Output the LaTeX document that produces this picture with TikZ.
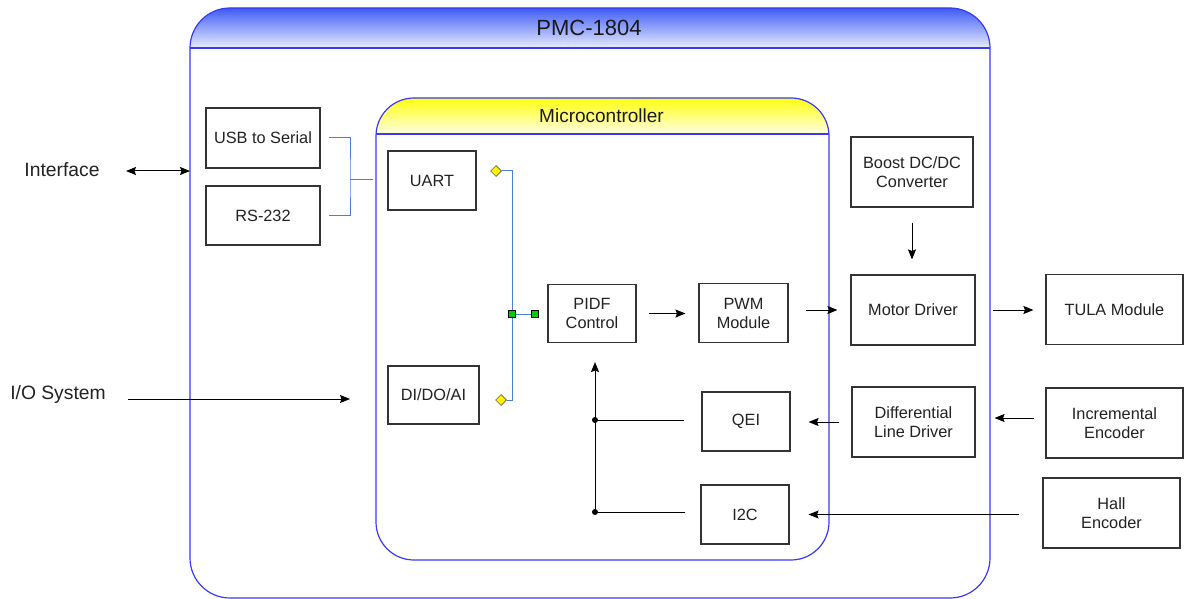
\documentclass[tikz,border=0pt]{standalone}
\usepackage{fontspec}
\setmainfont{Liberation Sans}
\usetikzlibrary{shapes.geometric,arrows.meta}
\definecolor{boxgray}{HTML}{333333}
\definecolor{txt}{HTML}{222222}
\definecolor{frameblue}{HTML}{3A3AF5}
\definecolor{hdrblue}{HTML}{3F5CF5}
\definecolor{hdrlight}{HTML}{E8ECFF}
\definecolor{linkblue}{HTML}{4A7FD8}
\definecolor{hdryel}{HTML}{FFFF10}
\definecolor{hdryellight}{HTML}{FFFFE4}
\begin{document}
\begin{tikzpicture}[x=1pt,y=-1pt,
  box/.style={draw=boxgray, line width=1.1pt, fill=white, inner sep=0pt, align=center,
    text=txt, font=\fontsize{16.3}{19}\selectfont},
  lbl/.style={inner sep=0pt, text=txt, font=\fontsize{19.3}{23}\selectfont},
  tip/.style={Stealth[length=10pt,width=8pt,inset=1.5pt]},
  arr/.style={draw=black, line width=1pt, -{Stealth[length=10pt,width=8pt,inset=1.5pt]}},
  plain/.style={draw=black, line width=1pt},
  link/.style={draw=linkblue, line width=1pt},
  dmd/.style={shape=diamond, draw=boxgray, fill=yellow, line width=0.5pt, minimum width=11pt, minimum height=11pt, inner sep=0pt},
  gsq/.style={draw=black, fill=green!80!black, line width=0.6pt, minimum size=7pt, inner sep=0pt},
  dot/.style={circle, fill=black, inner sep=0pt, minimum size=6pt}]
\useasboundingbox (0,0) rectangle (1184,599);
\fill[white] (0,0) rectangle (1184,599);
% outer container
\begin{scope}
  \clip[rounded corners=40pt] (190,8) rectangle (990,598);
  \shade[top color=hdrblue, bottom color=hdrlight] (190,8) rectangle (990,48);
\end{scope}
\draw[frameblue, line width=1.2pt, rounded corners=40pt] (190,8) rectangle (990,598);
\draw[frameblue, line width=1.2pt] (190,48) -- (990,48);
\node[inner sep=0pt, text=black!90, font=\fontsize{22}{26}\selectfont] (pmc) at (589,28) {PMC-1804};
% microcontroller container
\begin{scope}
  \clip[rounded corners=38pt] (376,98) rectangle (829,560);
  \shade[top color=hdryel, bottom color=hdryellight] (376,98) rectangle (829,134);
\end{scope}
\draw[frameblue, line width=1.2pt, rounded corners=38pt] (376,98) rectangle (829,560);
\draw[frameblue, line width=1.2pt] (376,134) -- (829,134);
\node[inner sep=0pt, text=black!90, font=\fontsize{19}{23}\selectfont] (mcu) at (601.5,116) {Microcontroller};
% boxes
\node[box, minimum width=114pt, minimum height=60pt] (usb) at (263,138) {USB to Serial};
\node[box, minimum width=114pt, minimum height=59pt] (rs) at (263,215.5) {RS-232};
\node[box, minimum width=88pt, minimum height=59pt] (uart) at (432,180.5) {UART};
\node[box, minimum width=91pt, minimum height=58pt] (dio) at (433.5,395) {DI/DO/AI};
\node[box, minimum width=88pt, minimum height=58pt] (pidf) at (592,313.5) {PIDF\\Control};
\node[box, minimum width=89pt, minimum height=59pt] (pwm) at (743.5,313) {PWM\\Module};
\node[box, minimum width=122pt, minimum height=70pt] (boost) at (912,172) {Boost DC/DC\\Converter};
\node[box, minimum width=124pt, minimum height=70pt] (motor) at (913,310) {Motor Driver};
\node[box, minimum width=137pt, minimum height=70pt] (tula) at (1114.5,309.5) {TULA Module};
\node[box, minimum width=123pt, minimum height=70pt] (diff) at (913.5,422) {Differential\\Line Driver};
\node[box, minimum width=88pt, minimum height=59pt] (qei) at (746,421.5) {QEI};
\node[box, minimum width=137pt, minimum height=70pt] (inc) at (1114.5,423) {Incremental\\Encoder};
\node[box, minimum width=137pt, minimum height=70pt] (hall) at (1111.5,513) {Hall\\Encoder};
\node[box, minimum width=88pt, minimum height=59pt] (i2c) at (745,514.5) {I2C};
% external labels
\node[lbl] (iface) at (62,170) {Interface};
\node[lbl] (io) at (58,395) {I/O System};
% bracket USB/RS-232 to UART side
\coordinate (brk) at (350,180);
\coordinate (brkend) at (373,180);
\draw[link] ([xshift=8pt]usb.east) -| (brk) |- ([xshift=8pt]rs.east);
\draw[link] (brk) -- (brkend);
% UART / DIO bus
\node[dmd] (d1) at (496,171) {};
\node[dmd] (d2) at (501,400) {};
\coordinate (bt) at (512,171);
\coordinate (bb) at (512,400);
\coordinate (g1c) at (512,314);
\coordinate (g2c) at (535,314);
\draw[link] (d1.east) -- (bt) -- (bb) -- (d2.east);
\draw[link] (g1c) -- (g2c);
\node[gsq] (g1) at (g1c) {};
\node[gsq] (g2) at (g2c) {};
% arrows
\draw[arr] ([xshift=12pt]pidf.east) -- ([xshift=-13pt]pidf.east -| pwm.west);
\draw[arr] ([xshift=17pt]pwm.east |- motor.west) -- ([xshift=-13pt]motor.west);
\draw[arr] ([yshift=-15pt]boost.south) -- ([yshift=15pt]boost.south |- motor.north);
\draw[arr] ([xshift=17pt]motor.east) -- ([xshift=-12pt]motor.east -| tula.west);
\draw[arr] ([xshift=-12pt]diff.west) -- ([xshift=18pt]diff.west -| qei.east);
\draw[arr] ([xshift=-11pt,yshift=5pt]inc.west) -- ([xshift=19pt,yshift=5pt]inc.west -| diff.east);
\draw[arr] ([xshift=-23pt]hall.west |- i2c.east) -- ([xshift=19pt]i2c.east);
% feedback
\coordinate (j1) at (595,420);
\coordinate (j2) at (595,512);
\draw[plain] ([xshift=-17pt]qei.west |- j1) -- (j1);
\draw[plain] ([xshift=-15pt]i2c.west |- j2) -- (j2);
\draw[arr] (j2) -- ([yshift=-19pt]pidf.south -| j2);
\node[dot] (dj1) at (j1) {};
\node[dot] (dj2) at (j2) {};
% external connectors
\coordinate (ifend) at (190,171);
\coordinate (ioend) at (350,399);
\draw[line width=1pt, {Stealth[length=10pt,width=8pt,inset=1.5pt]}-{Stealth[length=10pt,width=8pt,inset=1.5pt]}] ([xshift=-64pt]ifend) -- (ifend);
\draw[arr] ([xshift=-222pt]ioend) -- (ioend);
\end{tikzpicture}
\end{document}
